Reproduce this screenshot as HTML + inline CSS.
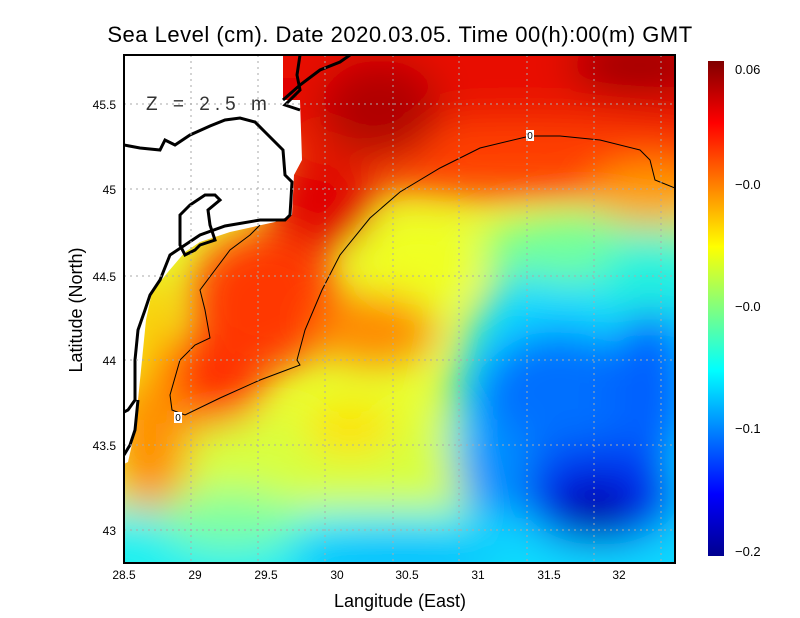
<!DOCTYPE html>
<html><head><meta charset="utf-8"><style>
body{margin:0;background:#fff;}
svg{display:block;font-family:"Liberation Sans",sans-serif;}
</style></head><body>
<svg width="800" height="618" viewBox="0 0 800 618" xmlns="http://www.w3.org/2000/svg">
<defs>
<clipPath id="pc"><rect x="124" y="55" width="551" height="508"/></clipPath>
<filter id="bl" x="-20%" y="-20%" width="140%" height="140%"><feGaussianBlur stdDeviation="20"/></filter>
<linearGradient id="cb" x1="0" y1="1" x2="0" y2="0">
<stop offset="0" stop-color="#00008f"/><stop offset="0.125" stop-color="#0000ff"/>
<stop offset="0.375" stop-color="#00ffff"/><stop offset="0.5" stop-color="#80ff80"/>
<stop offset="0.625" stop-color="#ffff00"/><stop offset="0.875" stop-color="#ff0000"/>
<stop offset="1" stop-color="#800000"/></linearGradient>
</defs>
<text x="400" y="42" font-size="22" text-anchor="middle" letter-spacing="0.5">Sea Level (cm). Date 2020.03.05. Time 00(h):00(m) GMT</text>
<g clip-path="url(#pc)">
<rect x="124" y="55" width="551" height="508" fill="#e8ff30"/>
<g filter="url(#bl)">
<rect x="60" y="420" width="700" height="100" fill="#d8ff40"/>
<rect x="60" y="510" width="700" height="100" fill="#20f0f0"/>
<ellipse cx="400" cy="560" rx="110" ry="30" fill="#00c0ff"/>
<ellipse cx="230" cy="520" rx="70" ry="30" fill="#80ffa0"/>
<ellipse cx="620" cy="420" rx="170" ry="200" fill="#10d8ff"/>
<ellipse cx="600" cy="250" rx="120" ry="35" fill="#70ffa0"/>
<ellipse cx="650" cy="280" rx="50" ry="40" fill="#20f0e0"/>
<ellipse cx="420" cy="260" rx="60" ry="40" fill="#f0ff20"/>
<ellipse cx="560" cy="405" rx="85" ry="75" fill="#0070ff"/>
<ellipse cx="650" cy="390" rx="40" ry="80" fill="#0060ff"/>
<ellipse cx="600" cy="495" rx="80" ry="50" fill="#0030f0"/>
<ellipse cx="595" cy="510" rx="40" ry="30" fill="#0000b0"/>
<ellipse cx="495" cy="470" rx="35" ry="50" fill="#0090ff"/>
<rect x="60" y="0" width="720" height="150" fill="#e81000"/>
<ellipse cx="520" cy="160" rx="230" ry="40" fill="#ff4000"/>
<ellipse cx="650" cy="195" rx="60" ry="30" fill="#ffa000"/>
<ellipse cx="380" cy="110" rx="60" ry="50" fill="#b00000"/>
<ellipse cx="640" cy="65" rx="70" ry="30" fill="#a00000"/>
<ellipse cx="320" cy="200" rx="55" ry="50" fill="#e00000"/>
<ellipse cx="265" cy="300" rx="75" ry="70" fill="#ff3800"/>
<ellipse cx="210" cy="380" rx="55" ry="45" fill="#ff3000"/>
<ellipse cx="375" cy="330" rx="60" ry="35" fill="#ff8800"/>
<ellipse cx="150" cy="440" rx="40" ry="70" fill="#ff9000"/>
<ellipse cx="150" cy="330" rx="20" ry="60" fill="#ffc000"/>
<ellipse cx="350" cy="430" rx="45" ry="25" fill="#ffe000"/>
</g>
<path d="M124,55 L283,55 L283,100 L300,100 L302,160 L294,175 L292,215 L275,222 L230,232 L200,242 L185,252 L168,272 L152,292 L146,320 L142,360 L138,400 L133,440 L128,462 L124,464 Z" fill="#fff"/>
<rect x="283" y="78" width="14" height="20" fill="#e00000"/>
<g fill="none" stroke="#000" stroke-width="3">
<path d="M124,145 L140,148 L160,150 L165,140 L175,145 L190,135 L210,126 L225,120 L240,118 L255,122 L265,132 L283,150 L285,175 L292,182 L290,215 L285,220 L260,220 L225,226 L200,235 L185,245 L170,255 L160,280 L150,295 L145,310 L138,330 L135,360 L135,400 L128,410 L124,412"/>
<path d="M124,455 L130,445 L135,430 L138,400"/>
<path d="M180,215 L190,205 L205,195 L215,195 L220,200 L208,210 L210,225 L215,240 L200,245 L195,250 L185,255 L180,245 L180,230 Z"/>
<path d="M283,100 L300,85 L320,70 L340,62 L350,55"/>
<path d="M300,55 L297,75 L300,90 L285,105 L300,110"/>
</g>
<path d="M675,188 L655,180 L650,160 L640,150 L600,140 L560,136 L530,136 L480,148 L440,168 L400,192 L370,218 L340,255 L322,290 L305,330 L297,360 L300,365 L260,380 L220,398 L185,415 L172,410 L170,395 L180,360 L195,345 L210,338 L205,310 L200,290 L215,270 L230,250 L250,235 L260,225" fill="none" stroke="#000" stroke-width="1"/>
<rect x="174" y="412" width="8" height="11" fill="#fff"/><text x="178" y="421" font-size="10" text-anchor="middle">0</text>
<rect x="526" y="130" width="8" height="11" fill="#fff"/><text x="530" y="139" font-size="10" text-anchor="middle">0</text>
<g stroke="#aaa" stroke-width="1" stroke-dasharray="2,4">
<line x1="191" y1="55" x2="191" y2="563"/><line x1="258" y1="55" x2="258" y2="563"/>
<line x1="325" y1="55" x2="325" y2="563"/><line x1="393" y1="55" x2="393" y2="563"/>
<line x1="459" y1="55" x2="459" y2="563"/><line x1="527" y1="55" x2="527" y2="563"/>
<line x1="594" y1="55" x2="594" y2="563"/><line x1="661" y1="55" x2="661" y2="563"/>
<line x1="124" y1="104" x2="675" y2="104"/><line x1="124" y1="189" x2="675" y2="189"/>
<line x1="124" y1="276" x2="675" y2="276"/><line x1="124" y1="360" x2="675" y2="360"/>
<line x1="124" y1="445" x2="675" y2="445"/><line x1="124" y1="530" x2="675" y2="530"/>
</g>
<text x="146" y="110" font-size="19" fill="#333" letter-spacing="5">Z = 2.5 m</text>
</g>
<rect x="124" y="55" width="551" height="508" fill="none" stroke="#000" stroke-width="2"/>
<g font-size="12" text-anchor="middle">
<text x="124" y="579">28.5</text><text x="195" y="579">29</text><text x="266" y="579">29.5</text>
<text x="337" y="579">30</text><text x="407" y="579">30.5</text><text x="478" y="579">31</text>
<text x="549" y="579">31.5</text><text x="619" y="579">32</text>
</g>
<g font-size="12" text-anchor="end">
<text x="116" y="109">45.5</text><text x="116" y="194">45</text><text x="116" y="281">44.5</text>
<text x="116" y="365">44</text><text x="116" y="450">43.5</text><text x="116" y="535">43</text>
</g>
<text x="400" y="607" font-size="18" text-anchor="middle">Langitude (East)</text>
<text transform="translate(82,310) rotate(-90)" font-size="18" text-anchor="middle">Latitude (North)</text>
<rect x="708" y="61" width="16" height="495" fill="url(#cb)"/>
<g font-size="13">
<text x="735" y="74">0.06</text><text x="735" y="189">−0.0</text><text x="735" y="311">−0.0</text>
<text x="735" y="433">−0.1</text><text x="735" y="556">−0.2</text>
</g>
</svg>
</body></html>
